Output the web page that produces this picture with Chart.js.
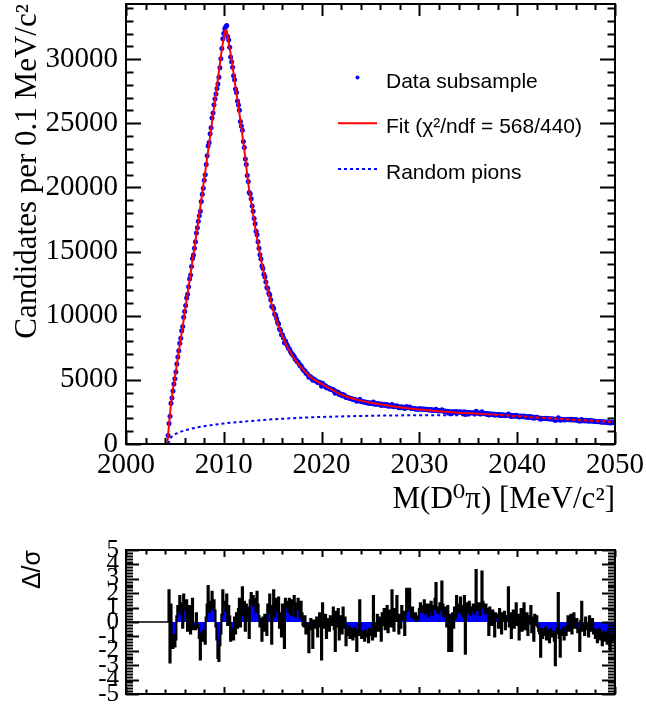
<!DOCTYPE html>
<html>
<head>
<meta charset="utf-8">
<script src="https://cdn.jsdelivr.net/npm/chart.js@4.4.1/dist/chart.umd.min.js"></script>
<style>
  html, body { margin: 0; padding: 0; background: #fff; }
  #wrap { position: relative; width: 646px; height: 711px; }
  #main { position: absolute; left: 0; top: 0; }
  #pull { position: absolute; left: 0; top: 530px; }
</style>
</head>
<body>
<div id="wrap">
  <canvas id="main" width="646" height="530"></canvas>
  <canvas id="pull" width="646" height="181"></canvas>
</div>
<script>
// histogram bins are 0.1 MeV wide, first filled bin at 2004.3
const BIN_START = 2004.3;
const BIN_WIDTH = 0.1;

// candidates per bin (2004.3 .. 2050.0)
const counts = [
  670, 1590, 2170, 3170, 3580, 4130, 4670,
  5080, 5610, 6230, 6790, 7270, 7860, 8250, 8820, 9160, 9890,
  10330, 10800, 11380, 11670, 12260, 12870, 13170, 13830, 14470, 14730,
  15260, 15770, 16440, 16860, 17370, 17800, 18140, 18910, 19470, 19930,
  20560, 20980, 21790, 22480, 23230, 23510, 24180, 24660, 25410, 25800,
  26440, 26900, 27290, 27710, 28060, 28590, 29340, 30040, 30840, 31590,
  32000, 32380, 32520, 32620, 31760, 31490, 30920, 30170, 29790, 29360,
  28700, 28400, 27670, 27400, 26730, 26430, 26010, 25150, 24780, 24450,
  23580, 23110, 22210, 21780, 20940, 20470, 19600, 19510, 19120, 18560,
  18140, 17570, 17160, 16590, 16320, 15770, 15250, 14760, 14420, 13870,
  13690, 13230, 13010, 12630, 12200, 12130, 11760, 11620, 11250, 10710,
  10710, 10570, 10140, 10030, 9780, 9500, 9360, 8960, 8860, 8510,
  8510, 8260, 7900, 8030, 7810, 7670, 7480, 7430, 7250, 7070,
  7020, 6890, 6830, 6600, 6560, 6420, 6390, 6250, 6100, 6100,
  5950, 5800, 5720, 5690, 5520, 5490, 5390, 5210, 5270, 5230,
  5110, 4970, 5060, 4990, 4920, 4920, 4790, 4790, 4810, 4710,
  4500, 4730, 4580, 4520, 4540, 4390, 4400, 4390, 4290, 4320,
  4240, 4230, 4240, 4100, 3960, 4090, 3990, 4030, 3850, 3910,
  3860, 3770, 3860, 3750, 3760, 3620, 3650, 3610, 3610, 3540,
  3540, 3530, 3470, 3470, 3480, 3420, 3340, 3400, 3370, 3490,
  3330, 3300, 3310, 3280, 3250, 3270, 3220, 3220, 3170, 3210,
  3170, 3170, 3130, 3280, 3120, 3100, 3120, 3160, 3090, 3110,
  3110, 3010, 3100, 3040, 3090, 3000, 3040, 3070, 2950, 2990,
  3010, 2940, 3070, 2970, 2900, 2970, 2920, 2990, 2900, 2830,
  2890, 2830, 2900, 2840, 2860, 2770, 2840, 2920, 2830, 2840,
  2890, 2810, 2770, 2790, 2760, 2740, 2750, 2710, 2720, 2710,
  2740, 2750, 2710, 2730, 2700, 2730, 2680, 2700, 2680, 2650,
  2680, 2650, 2680, 2620, 2650, 2630, 2660, 2710, 2600, 2610,
  2580, 2610, 2585, 2675, 2590, 2540, 2570, 2550, 2490, 2560,
  2395, 2515, 2495, 2380, 2505, 2450, 2510, 2470, 2540, 2480,
  2500, 2475, 2515, 2460, 2480, 2440, 2505, 2305, 2450, 2470,
  2435, 2465, 2415, 2440, 2420, 2440, 2405, 2415, 2545, 2420,
  2400, 2420, 2375, 2395, 2510, 2405, 2385, 2355, 2380, 2365,
  2350, 2265, 2355, 2320, 2290, 2330, 2310, 2235, 2310, 2290,
  2295, 2245, 2300, 2265, 2210, 2275, 2245, 2270, 2205, 2245,
  2230, 2330, 2195, 2235, 2150, 2210, 2230, 2165, 2185, 2235,
  2160, 2185, 2105, 2165, 2190, 2115, 2145, 2190, 2105, 2125,
  2140, 2070, 2120, 2095, 2145, 2055, 2095, 2015, 2095, 2055,
  2080, 2040, 2025, 2010, 1935, 2015, 1985, 1995, 1985, 2000,
  1960, 1985, 1970, 1940, 1975, 1950, 1945, 1950, 1920, 1840,
  1935, 1945, 2050, 1905, 1845, 1920, 1905, 1920, 1880, 1900,
  1885, 1905, 1935, 1885, 1900, 1925, 1865, 1890, 1915, 1865,
  1865, 1885, 1840, 1845, 1775, 1860, 1915, 1820, 1835, 1800,
  1850, 1810, 1815, 1780, 1835, 1785, 1795, 1810, 1765, 1775,
  1745, 1760, 1725, 1745, 1755, 1720, 1730, 1695, 1730, 1710,
  1695, 1715, 1680, 1715, 1690, 1645, 1690, 1665, 1670, 1680,
  1670
];

// pull (data - fit) / sigma, same bins
const pulls = [
  0.0, 2.2, -2.8, 1.2, -1.6, -1.8, -0.9,
  -1.7, -1.2, 0.4, 1.1, 0.8, 1.8, 0.6, 1.3, -0.4, 1.9,
  1.3, 0.9, 1.5, -0.6, 0.2, 1.1, -0.8, 0.5, 1.6, -0.5,
  -0.3, -0.5, 0.6, -0.2, -0.4, -1.1, -2.6, -0.9, -0.7, -1.3,
  -0.6, -1.5, 0.3, 1.2, 2.5, 0.7, 1.4, 0.9, 2.1, 1.0,
  1.5, 0.8, -0.3, -1.2, -2.5, -2.7, -1.6, -0.8, 0.5, 2.2,
  1.4, 1.2, 0.8, 1.9, -0.2, 1.1, 0.4, -1.3, -0.9, -0.5,
  -1.2, 0.3, -0.8, 0.6, -0.4, 0.9, 1.6, -0.3, 0.8, 2.4,
  0.5, 1.4, -0.6, 1.2, 0.3, 1.0, -1.1, 1.5, 2.0, 1.3,
  1.8, 1.1, 1.6, 0.7, 2.1, 1.2, 0.4, -0.3, 0.2, -1.3,
  0.3, -0.6, 0.5, 0.1, -0.9, 1.2, 0.6, 1.9, 0.9, -1.5,
  1.1, 2.2, 0.4, 1.6, 1.3, 0.8, 1.7, -0.4, 0.6, -1.0,
  1.2, 0.3, -1.8, 1.6, 1.0, 1.4, 0.7, 1.6, 1.1, 0.5,
  1.5, 1.2, 1.8, 0.4, 1.3, 0.9, 1.6, 1.0, 0.3, 1.4,
  0.6, -0.2, -0.3, 0.4, -0.8, -0.1, -0.6, -2.1, -0.3, 0.2,
  -0.5, -1.8, 0.1, -0.2, -0.4, 0.3, -1.0, -0.3, 0.6, -0.2,
  -2.6, 1.3, -0.2, -0.4, 0.5, -1.1, -0.3, 0.2, -0.6, 0.4,
  -0.2, 0.3, 1.0, -0.5, -2.0, 0.7, -0.3, 0.9, -1.2, 0.4,
  0.1, -0.8, 1.0, -0.4, 0.3, -1.6, -0.6, -0.9, -0.3, -1.1,
  -0.7, -0.5, -1.2, -0.8, -0.4, -1.0, -2.0, -0.6, -0.9, 1.5,
  -0.8, -1.1, -0.7, -0.9, -1.3, -0.6, -1.0, -0.8, -1.4, -0.5,
  -0.9, -0.7, -1.2, 1.8, -0.8, -1.0, -0.3, 0.5, -0.6, 0.2,
  0.3, -1.3, 0.6, -0.2, 0.9, -0.5, 0.4, 1.1, -0.7, 0.2,
  0.8, -0.3, 2.2, 0.5, -0.6, 0.9, 0.1, 1.8, 0.4, -0.8,
  0.5, -0.4, 1.1, 0.2, 0.7, -0.9, 0.6, 2.3, 0.8, 1.2,
  2.3, 0.9, 0.4, 1.0, 0.3, 0.2, 0.6, 0.1, 0.4, 0.2,
  0.9, 1.3, 0.7, 1.1, 0.8, 1.5, 0.6, 1.2, 1.0, 0.4,
  1.2, 0.8, 1.4, 0.5, 1.1, 0.9, 1.6, 2.7, 0.7, 1.0,
  0.6, 1.3, 0.9, 2.8, 1.2, 0.4, 1.0, 0.8, -0.3, 1.1,
  -2.0, 0.5, 0.2, -2.0, 0.6, -0.4, 1.0, 0.3, 1.8, 0.7,
  1.2, 0.8, 1.7, 0.6, 1.1, 0.4, 1.8, -2.2, 0.9, 1.3,
  0.7, 1.4, 0.5, 1.0, 0.8, 1.2, 0.6, 0.9, 3.6, 1.1,
  0.8, 1.3, 0.5, 1.0, 3.5, 1.4, 1.1, 0.6, 1.2, 0.9,
  0.7, -0.9, 1.0, 0.4, -0.2, 0.8, 0.5, -1.0, 0.6, 0.3,
  0.5, -0.4, 0.9, 0.2, -0.8, 0.6, 0.1, 0.7, -0.5, 0.4,
  0.2, 2.4, -0.3, 0.6, -1.1, 0.3, 0.8, -0.4, 0.1, 1.3,
  -0.2, 0.5, -1.2, 0.3, 0.9, -0.6, 0.2, 1.3, -0.5, 0.1,
  0.6, -0.9, 0.4, -0.1, 1.1, -0.7, 0.3, -1.3, 0.5, -0.2,
  0.4, -0.3, -0.6, -0.8, -2.4, -0.5, -1.1, -0.7, -0.9, -0.4,
  -1.2, -0.6, -0.8, -1.4, -0.5, -0.9, -1.0, -0.7, -1.3, -3.0,
  -0.8, -0.5, 2.0, -1.1, -2.4, -0.6, -0.9, -0.4, -1.2, -0.7,
  -0.9, -0.3, 0.4, -0.6, -0.2, 0.5, -0.8, -0.1, 0.6, -0.4,
  -0.3, 0.2, -0.7, -0.5, -2.0, 0.1, 1.4, -0.6, -0.2, -0.9,
  0.3, -0.5, -0.2, -1.0, 0.4, -0.6, -0.3, 0.2, -0.8, -0.5,
  -1.1, -0.6, -1.4, -0.8, -0.5, -1.2, -0.9, -1.6, -0.7, -1.0,
  -1.3, -0.8, -1.5, -0.6, -1.1, -2.0, -0.9, -1.4, -1.2, -0.8,
  -1.0
];
// empty bins below threshold (pull 0)
const pullEmptyMass = [2000, 2004.3];

// total fit curve
const fitMass = [
  2004.22, 2004.4, 2004.6, 2004.8, 2005.0, 2005.5, 2006.0, 2006.5, 2007.0, 2007.5,
  2008.0, 2008.5, 2009.0, 2009.5, 2009.8, 2010.0, 2010.1, 2010.2, 2010.3, 2010.4,
  2010.5, 2010.6, 2010.7, 2010.8, 2010.9, 2011.0, 2011.2, 2011.4, 2011.6, 2011.8,
  2012.0, 2012.2, 2012.4, 2012.6, 2012.8, 2013.0, 2013.2, 2013.4, 2013.6, 2013.8,
  2014.0, 2014.2, 2014.4, 2014.6, 2014.8, 2015.0, 2015.2, 2015.4, 2015.6, 2015.8,
  2016.0, 2016.5, 2017.0, 2017.5, 2018.0, 2018.5, 2019.0, 2019.5, 2020.0, 2021.0,
  2022.0, 2023.0, 2024.0, 2025.0, 2026.0, 2027.0, 2028.0, 2029.0, 2030.0, 2032.0,
  2034.0, 2036.0, 2038.0, 2040.0, 2042.0, 2044.0, 2046.0, 2048.0, 2050.0
];
const fitCounts = [
  0, 1500, 3100, 4250, 5200, 7700, 10200, 12750, 15300, 17950,
  20650, 23400, 26200, 29050, 30750, 31700, 32100, 32300, 32200, 31800,
  31300, 30850, 30400, 29950, 29450, 28900, 27800, 26800, 25750, 24650,
  23500, 22300, 20950, 19750, 18850, 17900, 16950, 16050, 15200, 14400,
  13650, 12950, 12300, 11700, 11150, 10600, 10100, 9650, 9200, 8800,
  8400, 7550, 6900, 6350, 5900, 5500, 5150, 4900, 4680, 4250,
  3850, 3580, 3380, 3220, 3090, 2970, 2860, 2770, 2690, 2550,
  2440, 2360, 2270, 2170, 2060, 1970, 1880, 1790, 1710
];

// random pion component
const bkgMass = [
  2004.35, 2004.45, 2004.8, 2005.2, 2006.0, 2007.0, 2008.0, 2009.0, 2010.0, 2012.0,
  2014.0, 2016.0, 2018.0, 2020.0, 2022.0, 2025.0, 2028.0, 2031.0, 2034.0, 2036.0,
  2038.0, 2040.0, 2042.0, 2044.0, 2046.0, 2048.0, 2050.0
];
const bkgCounts = [
  0, 300, 650, 830, 1060, 1250, 1390, 1500, 1600, 1750,
  1870, 1970, 2050, 2110, 2150, 2200, 2230, 2240, 2235, 2220,
  2190, 2140, 2055, 1968, 1878, 1788, 1708
];

const X_TICKS = [2000, 2010, 2020, 2030, 2040, 2050];
const Y_TICKS = [0, 5000, 10000, 15000, 20000, 25000, 30000];
const PULL_TICKS = [-5, -4, -3, -2, -1, 0, 1, 2, 3, 4, 5];
const LEGEND_TEXT = ["Data subsample", "Fit (χ²/ndf = 568/440)", "Random pions"];

const SERIF = "'Liberation Serif', 'DejaVu Serif', 'Times New Roman', serif";
const SANS = "'Liberation Sans', Arial, sans-serif";

const massAt = i => +(BIN_START + i * BIN_WIDTH).toFixed(2);
const toXY = (xs, ys) => ys.map((y, i) => ({ x: xs[i], y }));
const fixedTicks = list => s => { s.ticks = list.map(v => ({ value: v })); };

// ROOT style frame: box plus inward ticks on all four sides
const frameTicks = {
  id: "frameTicks",
  afterDatasetsDraw(chart, args, o) {
    const { ctx, chartArea: a, scales: { x, y } } = chart;
    ctx.save();
    ctx.strokeStyle = "#000";
    ctx.lineWidth = 2;
    ctx.beginPath();
    const isMajor = (v, m) => Math.abs(v / m - Math.round(v / m)) < 1e-6;
    const nx = Math.round((x.max - x.min) / o.xMinor);
    for (let i = 0; i <= nx; i++) {
      const v = x.min + i * o.xMinor;
      const px = Math.round(x.getPixelForValue(v)) + 0.5;
      const len = isMajor(v, o.xMajor) ? o.xLen[0] : o.xLen[1];
      ctx.moveTo(px, a.bottom); ctx.lineTo(px, a.bottom - len);
      ctx.moveTo(px, a.top); ctx.lineTo(px, a.top + len);
    }
    const y0 = Math.ceil(y.min / o.yMinor - 1e-6);
    const y1 = Math.floor(y.max / o.yMinor + 1e-6);
    for (let i = y0; i <= y1; i++) {
      const v = +(i * o.yMinor).toFixed(6);
      const py = Math.round(y.getPixelForValue(v)) + 0.5;
      const len = isMajor(v, o.yMajor) ? o.yLen[0] : o.yLen[1];
      ctx.moveTo(a.left, py); ctx.lineTo(a.left + len, py);
      ctx.moveTo(a.right, py); ctx.lineTo(a.right - len, py);
    }
    ctx.stroke();
    ctx.strokeRect(a.left, a.top, a.width, a.height);
    ctx.restore();
  }
};

// legend box inside the main pad
const rootLegend = {
  id: "rootLegend",
  afterDraw(chart) {
    const ctx = chart.ctx;
    const [dataSet, fitSet, bkgSet] = [2, 1, 0].map(i => chart.data.datasets[i]);
    const base = [88, 133.3, 178.5];
    ctx.save();
    ctx.fillStyle = dataSet.pointBackgroundColor;
    ctx.beginPath();
    ctx.arc(357.5, base[0] - 10.5, 2, 0, Math.PI * 2);
    ctx.fill();
    ctx.lineWidth = 2;
    ctx.strokeStyle = fitSet.borderColor;
    ctx.beginPath(); ctx.moveTo(338, base[1] - 10); ctx.lineTo(377, base[1] - 10); ctx.stroke();
    ctx.strokeStyle = bkgSet.borderColor;
    ctx.setLineDash(bkgSet.borderDash);
    ctx.beginPath(); ctx.moveTo(338, base[2] - 9.5); ctx.lineTo(377, base[2] - 9.5); ctx.stroke();
    ctx.setLineDash([]);
    ctx.fillStyle = "#000";
    ctx.font = "21px " + SANS;
    ctx.textBaseline = "alphabetic";
    LEGEND_TEXT.forEach((t, i) => ctx.fillText(t, 386, base[i]));
    ctx.restore();
  }
};

function noPad(s) { s.paddingLeft = s.paddingRight = s.paddingTop = s.paddingBottom = 0; }

new Chart(document.getElementById("main"), {
  type: "line",
  data: {
    datasets: [
      { label: "Random pions", data: toXY(bkgMass, bkgCounts), borderColor: "#0000ff", borderWidth: 2, borderDash: [3, 3],
        pointRadius: 0, cubicInterpolationMode: "monotone", order: 0 },
      { label: "Fit", data: toXY(fitMass, fitCounts), borderColor: "#ff0000", borderWidth: 2,
        pointRadius: 0, cubicInterpolationMode: "monotone", order: 1 },
      { label: "Data subsample", data: counts.map((c, i) => ({ x: massAt(i), y: c })), showLine: false,
        pointRadius: 2.5, pointBackgroundColor: "#0000ff", pointBorderWidth: 0, order: 2 },
    ],
  },
  options: {
    responsive: false, animation: false, devicePixelRatio: 1,
    layout: { padding: { top: 4, right: 31, bottom: 0, left: 0 } },
    plugins: {
      legend: { display: false }, tooltip: { enabled: false },
      frameTicks: { xMajor: 10, xMinor: 2, xLen: [12, 6], yMajor: 5000, yMinor: 1000, yLen: [15, 7.5] },
    },
    scales: {
      x: {
        type: "linear", min: 2000, max: 2050,
        grid: { display: false, drawTicks: false }, border: { display: false },
        afterBuildTicks: fixedTicks(X_TICKS),
        afterFit: s => { s.height = 86; noPad(s); },
        ticks: { color: "#000", font: { family: SERIF, size: 29 }, padding: 4, maxRotation: 0, autoSkip: false, callback: v => String(v) },
        title: { display: true, text: "M(D⁰π) [MeV/c²]", align: "end", color: "#000", font: { family: SERIF, size: 31 }, padding: { top: 0, bottom: 12 } },
      },
      y: {
        type: "linear", min: 0, max: 34300,
        grid: { display: false, drawTicks: false }, border: { display: false },
        afterBuildTicks: fixedTicks(Y_TICKS),
        afterFit: s => { s.width = 126; noPad(s); },
        ticks: { color: "#000", font: { family: SERIF, size: 29 }, padding: 8, autoSkip: false, callback: v => String(v) },
        title: { display: true, text: "Candidates per 0.1 MeV/c²", align: "end", color: "#000", font: { family: SERIF, size: 31 }, padding: { top: 9, bottom: 0 } },
      },
    },
  },
  plugins: [frameTicks, rootLegend],
});

new Chart(document.getElementById("pull"), {
  type: "line",
  data: {
    datasets: [
      { data: pulls.map((p, i) => ({ x: massAt(i), y: p })), stepped: "middle", fill: "origin",
        backgroundColor: "#0000ff", borderColor: "#000", borderWidth: 2.2, pointRadius: 0 },
      { data: pullEmptyMass.map(m => ({ x: m, y: 0 })), borderColor: "#000", borderWidth: 1.5, pointRadius: 0 },
    ],
  },
  options: {
    responsive: false, animation: false, devicePixelRatio: 1,
    layout: { padding: { top: 20, right: 31, bottom: 17, left: 0 } },
    plugins: {
      legend: { display: false }, tooltip: { enabled: false },
      frameTicks: { xMajor: 10, xMinor: 2, xLen: [7, 4.5], yMajor: 1, yMinor: 0.2, yLen: [13, 7] },
    },
    scales: {
      x: { type: "linear", min: 2000, max: 2050, display: false },
      y: {
        type: "linear", min: -5, max: 5,
        grid: { display: false, drawTicks: false }, border: { display: false },
        afterBuildTicks: fixedTicks(PULL_TICKS),
        afterFit: s => { s.width = 126; noPad(s); },
        ticks: { color: "#000", font: { family: SERIF, size: 25 }, padding: 7, autoSkip: false, callback: v => String(v) },
        title: { display: true, text: "Δ/σ", align: "end", color: "#000", font: { family: SANS, size: 25 }, padding: { top: 18, bottom: 0 } },
      },
    },
  },
  plugins: [frameTicks],
});
</script>
</body>
</html>
